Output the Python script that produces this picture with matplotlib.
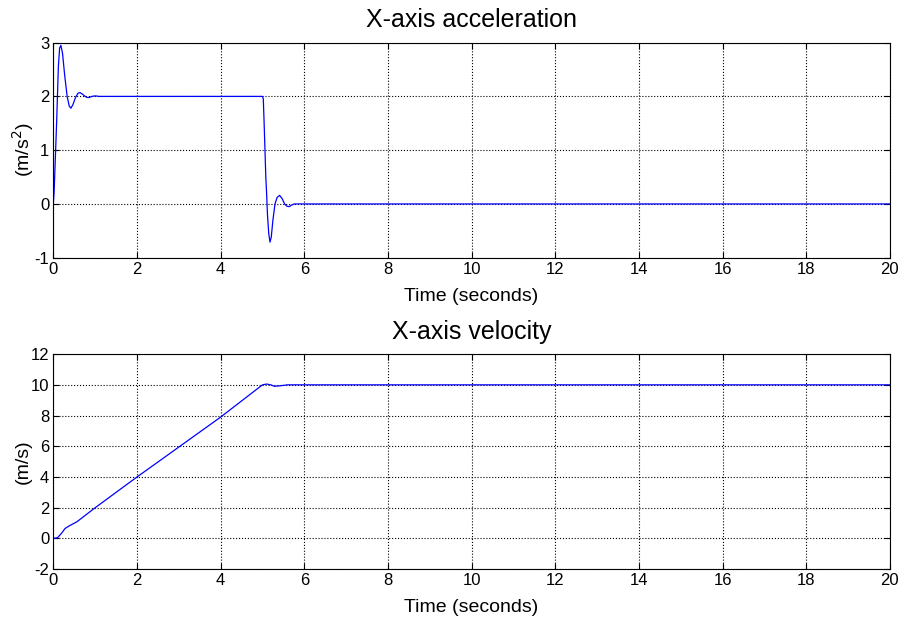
import numpy as np
import matplotlib.pyplot as plt

plt.rcParams['font.family'] = ['Liberation Sans', 'DejaVu Sans']
plt.rcParams['axes.unicode_minus'] = False

# acceleration trace (time s, m/s^2)
acc_t = [0.0, 0.02, 0.05, 0.08, 0.12, 0.15, 0.18, 0.22, 0.27, 0.33, 0.38, 0.42, 0.47,
         0.53, 0.59, 0.64, 0.70, 0.76, 0.81, 0.86, 0.92, 1.0, 1.1, 2.0, 4.0, 5.0,
         5.02, 5.04, 5.06, 5.08, 5.10, 5.12, 5.15, 5.18, 5.21, 5.25, 5.30, 5.35,
         5.41, 5.47, 5.53, 5.58, 5.64, 5.70, 5.76, 6.0, 10.0, 20.0]
acc_v = [0.0, 0.25, 0.9, 1.55, 2.55, 2.9, 2.95, 2.8, 2.4, 2.0, 1.82, 1.78, 1.85,
         1.98, 2.06, 2.07, 2.04, 2.0, 1.98, 1.98, 2.0, 2.01, 2.0, 2.0, 2.0, 2.0,
         1.95, 1.5, 1.0, 0.5, 0.18, -0.2, -0.55, -0.71, -0.62, -0.3, 0.0, 0.12,
         0.16, 0.1, 0.0, -0.04, -0.05, -0.02, 0.0, 0.0, 0.0, 0.0]

# velocity trace (time s, m/s)
vel_t = [0.0, 0.1, 0.2, 0.28, 0.4, 0.56, 1.0, 2.0, 3.0, 4.0, 4.5, 5.0, 5.1,
         5.2, 5.28, 5.4, 5.6, 6.0, 10.0, 20.0]
vel_v = [0.0, 0.05, 0.35, 0.65, 0.85, 1.08, 2.0, 4.0, 5.95, 7.9, 8.95, 10.0, 10.05,
         10.0, 9.91, 9.93, 10.0, 10.0, 10.0, 10.0]

fig = plt.figure(figsize=(8.98, 6.18), dpi=100)
ax1 = fig.add_axes([0.0594, 0.583, 0.9315, 0.348])
ax2 = fig.add_axes([0.0594, 0.079, 0.9315, 0.348])

ax1.plot(acc_t, acc_v, color='#0000ff', lw=0.9)
ax2.plot(vel_t, vel_v, color='#0000ff', lw=0.9)

for ax, title, ylab, ylim, yt in [
        (ax1, 'X-axis acceleration', '(m/s$^2$)', (-1, 3), np.arange(-1, 4, 1)),
        (ax2, 'X-axis velocity', '(m/s)', (-2, 12), np.arange(-2, 13, 2))]:
    ax.set_xlim(0, 20)
    ax.set_ylim(*ylim)
    ax.set_xticks(np.arange(0, 21, 2))
    ax.set_yticks(yt)
    ax.grid(True, color='black', linestyle=':', linewidth=0.8)
    ax.tick_params(direction='in', top=True, right=True, labelsize=12,
                   length=4, width=0.8, pad=3)
    for s in ax.spines.values():
        s.set_linewidth(0.8)
    ax.set_title(title, fontsize=18, pad=11)
    ax.set_xlabel('Time (seconds)', fontsize=14, labelpad=8)
    ax.set_ylabel(ylab, fontsize=14, labelpad=-1)

fig.savefig('out.png', dpi=100)
